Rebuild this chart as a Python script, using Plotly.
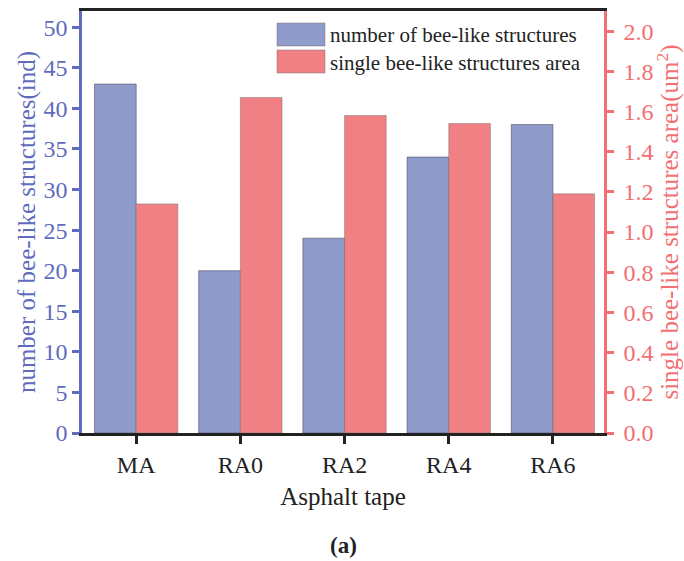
import plotly.graph_objects as go

categories = ["MA", "RA0", "RA2", "RA4", "RA6"]
bee_count = [43, 20, 24, 34, 38]
bee_area = [1.14, 1.67, 1.58, 1.54, 1.19]
count_name = "number of bee-like structures"
area_name = "single bee-like structures area"

BLUE_BAR = "#8f9bcb"
RED_BAR = "#f08084"
BLUE_TXT = "#5f6cbd"
RED_TXT = "#f26f72"
FONT = "Liberation Serif"

fig = go.Figure()
fig.add_trace(go.Bar(x=categories, y=bee_count, name=count_name, offsetgroup="1",
                     marker=dict(color=BLUE_BAR, line=dict(color="rgba(70,70,90,0.55)", width=1)),
                     yaxis="y", showlegend=False))
fig.add_trace(go.Bar(x=categories, y=bee_area, name=area_name, offsetgroup="2",
                     marker=dict(color=RED_BAR, line=dict(color="rgba(110,110,110,0.45)", width=1)),
                     yaxis="y2", showlegend=False))

# manual legend
legend_items = [(count_name, BLUE_BAR, 23, 46), (area_name, RED_BAR, 50, 73)]
for text, col, y0, y1 in legend_items:
    fig.add_shape(type="rect", xref="paper", yref="paper",
                  x0=(277 - 82) / 522, x1=(325 - 82) / 522,
                  y0=1 - (y1 - 11) / 422, y1=1 - (y0 - 11) / 422,
                  fillcolor=col, line=dict(color="rgba(120,120,120,0.5)", width=1))
    fig.add_annotation(xref="paper", yref="paper", x=(328 - 82) / 522,
                       y=1 - ((y0 + y1) / 2 + 1 - 11) / 422, xanchor="left", yanchor="middle",
                       text=text, showarrow=False, font=dict(family=FONT, size=21, color="#222"))

fig.add_annotation(xref="paper", yref="paper", x=(343 - 82) / 522, y=1 - (545 - 11) / 422,
                   xanchor="center", yanchor="middle", text="<b>(a)</b>", showarrow=False,
                   font=dict(family=FONT, size=23, color="#222"))

fig.update_layout(
    width=684, height=561,
    margin=dict(l=82, r=80, t=11, b=128, autoexpand=False),
    paper_bgcolor="white", plot_bgcolor="white",
    barmode="group", bargap=0.2, bargroupgap=0,
    font=dict(family=FONT, size=20, color="#222"),
    xaxis=dict(range=[-0.52, 4.49], showline=True, linecolor="#222", linewidth=3, mirror=True,
               ticks="outside", ticklen=8, tickwidth=2.5, tickcolor="#222", automargin=False,
               tickfont=dict(family=FONT, size=24, color="#222"),
               title=dict(text="Asphalt tape", font=dict(family=FONT, size=25, color="#222"), standoff=11),
               showgrid=False, zeroline=False),
    yaxis=dict(range=[0, 52], tickvals=list(range(0, 51, 5)), showline=True, linecolor=BLUE_TXT,
               linewidth=2.5, ticks="outside", ticklen=7, tickwidth=2.5, tickcolor=BLUE_TXT,
               automargin=False,
               tickfont=dict(family=FONT, size=24, color=BLUE_TXT),
               title=dict(text="number of bee-like structures(ind)",
                          font=dict(family=FONT, size=25, color=BLUE_TXT), standoff=1),
               showgrid=False, zeroline=False),
    yaxis2=dict(range=[0, 2.1], tickvals=[i / 5 for i in range(11)], tickformat=".1f",
                overlaying="y", side="right", showline=True, linecolor=RED_TXT, linewidth=2.5,
                ticks="outside", ticklen=7, tickwidth=2.5, tickcolor=RED_TXT,
                automargin=False,
                tickfont=dict(family=FONT, size=24, color=RED_TXT), ticklabelstandoff=5,
                title=dict(text="single bee-like structures area(um<sup>2</sup>)",
                           font=dict(family=FONT, size=25, color=RED_TXT), standoff=10),
                showgrid=False, zeroline=False),
)

fig.write_html("out.html")
